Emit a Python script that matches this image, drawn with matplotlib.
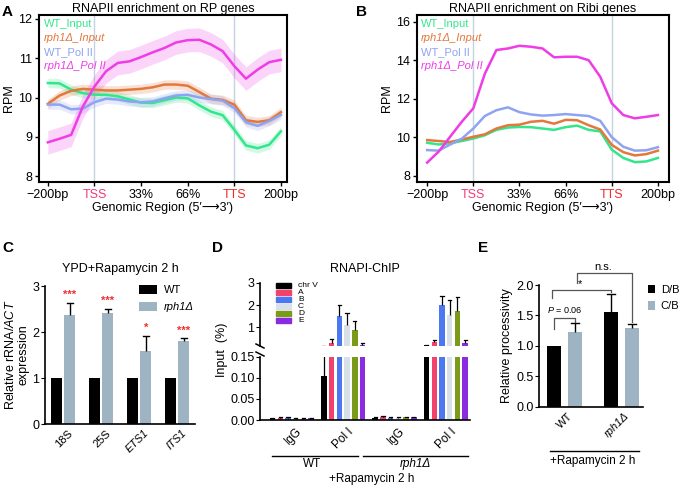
import matplotlib
matplotlib.use('Agg')
import matplotlib.pyplot as plt
from matplotlib.lines import Line2D
from matplotlib.patches import Rectangle

plt.rcParams['font.family'] = ['Liberation Sans', 'DejaVu Sans']
plt.rcParams['mathtext.fontset'] = 'custom'
plt.rcParams['mathtext.rm'] = 'Liberation Sans'
plt.rcParams['mathtext.it'] = 'Liberation Sans:italic'
plt.rcParams['axes.linewidth'] = 1.0

# ---------------- data ----------------
profile_pos = [0, 0.25, 0.5, 0.75, 1.0, 1.25, 1.5, 1.75, 2.0, 2.25, 2.5,
               2.75, 3.0, 3.25, 3.5, 3.75, 4.0, 4.25, 4.5, 4.75, 5.0]
profile_ticks = ['\u2212200bp', 'TSS', '33%', '66%', 'TTS', '200bp']
series_labels = ['WT_Input', 'rph1\u0394_Input', 'WT_Pol II', 'rph1\u0394_Pol II']
series_colors = ['#33e68c', '#e3783c', '#8ea3f2', '#f03ce6']

rp_wt_input = [10.37, 10.36, 10.20, 10.11, 10.07, 10.07, 10.03, 9.95, 9.87, 9.86, 9.93,
               10.00, 9.98, 9.80, 9.64, 9.55, 9.18, 8.78, 8.71, 8.80, 9.14]
rp_rph_input = [9.84, 10.05, 10.17, 10.22, 10.20, 10.18, 10.18, 10.20, 10.22, 10.26, 10.33,
                10.33, 10.30, 10.14, 9.97, 9.94, 9.82, 9.42, 9.38, 9.42, 9.63]
rp_wt_pol2 = [9.82, 9.82, 9.70, 9.72, 9.88, 9.97, 9.95, 9.90, 9.88, 9.90, 9.98,
              10.05, 10.07, 10.00, 9.96, 9.92, 9.73, 9.37, 9.28, 9.40, 9.56]
rp_rph_pol2 = [8.86, 8.95, 9.05, 9.77, 10.28, 10.67, 10.88, 10.92, 11.03, 11.15, 11.26,
               11.40, 11.46, 11.47, 11.35, 11.18, 10.80, 10.48, 10.71, 10.90, 10.96]
rp_band = [0.12, 0.12, 0.12, 0.30]

ribi_wt_input = [9.71, 9.62, 9.68, 9.80, 9.93, 10.10, 10.38, 10.50, 10.53, 10.52, 10.45,
                 10.38, 10.52, 10.60, 10.38, 10.30, 9.35, 8.92, 8.70, 8.74, 8.92]
ribi_rph_input = [9.85, 9.80, 9.75, 9.88, 10.02, 10.15, 10.45, 10.62, 10.65, 10.80, 10.85,
                  10.70, 10.90, 10.88, 10.62, 10.40, 9.60, 9.22, 9.05, 9.12, 9.30]
ribi_wt_pol2 = [9.33, 9.30, 9.62, 9.92, 10.45, 11.10, 11.40, 11.55, 11.30, 11.18, 11.12,
                11.15, 11.20, 11.15, 11.10, 10.85, 10.00, 9.50, 9.30, 9.32, 9.48]
ribi_rph_pol2 = [8.68, 9.25, 10.03, 10.80, 11.50, 13.30, 14.53, 14.61, 14.75, 14.70, 14.61,
                 14.15, 14.18, 14.18, 14.00, 13.14, 11.76, 11.15, 10.98, 11.06, 11.15]

c_targets = ['18S', '25S', 'ETS1', 'ITS1']
c_wt = [1.0, 1.0, 1.0, 1.0]
c_rph = [2.38, 2.42, 1.58, 1.80]
c_rph_err = [0.25, 0.09, 0.34, 0.06]
c_stars = ['***', '***', '*', '***']

d_regions = ['chr V', 'A', 'B', 'C', 'D', 'E']
d_colors = ['#000000', '#f2426b', '#4b78f0', '#d8e0e8', '#7c9a1a', '#8a2be2']
d_groups = ['IgG', 'Pol I', 'IgG', 'Pol I']
d_wt_igg = [0.004, 0.005, 0.005, 0.003, 0.003, 0.004]
d_wt_igg_err = [0.001, 0.001, 0.001, 0.001, 0.001, 0.001]
d_wt_pol1 = [0.105, 0.28, 1.52, 1.10, 0.88, 0.20]
d_wt_pol1_err = [0.05, 0.18, 0.48, 0.52, 0.40, 0.08]
d_rph_igg = [0.005, 0.007, 0.005, 0.005, 0.006, 0.006]
d_rph_igg_err = [0.001, 0.002, 0.001, 0.001, 0.001, 0.001]
d_rph_pol1 = [0.19, 0.35, 1.98, 1.55, 1.75, 0.30]
d_rph_pol1_err = [0.03, 0.10, 0.44, 0.67, 0.60, 0.15]

e_strains = ['WT', 'rph1\u0394']
e_db = [1.00, 1.55]
e_db_err = [0.0, 0.30]
e_cb = [1.22, 1.29]
e_cb_err = [0.15, 0.07]

GREY = '#9fb4c2'

# ---------------- helpers ----------------
W, H = 679, 494
fig = plt.figure(figsize=(W / 100, H / 100), dpi=100)


def add_ax(l, t, r, b):
    return fig.add_axes([l / W, 1 - b / H, (r - l) / W, (b - t) / H])


def ftext(x, y, s, **kw):
    return fig.text(x / W, 1 - y / H, s, **kw)


def fline(xs, ys, **kw):
    fig.add_artist(Line2D([x / W for x in xs], [1 - y / H for y in ys],
                          transform=fig.transFigure, **kw))


def up_err(ax, xs, ys, errs, cw, lw=1.0, clip=True):
    for x, y, e in zip(xs, ys, errs):
        if e <= 0:
            continue
        ax.plot([x, x], [y, y + e], color='black', lw=lw, clip_on=clip, solid_capstyle='butt')
        ax.plot([x - cw, x + cw], [y + e, y + e], color='black', lw=lw, clip_on=clip)


# ---------------- panels A, B ----------------
def profile(ax, data, bands, title, ylim, yticks, xlim, legend_x):
    for i, (y, col) in enumerate(zip(data, series_colors)):
        if bands is not None:
            lo = [v - bands[i] for v in y]
            hi = [v + bands[i] for v in y]
            ax.fill_between(profile_pos, lo, hi, color=col, alpha=0.22, lw=0)
    for y, col in zip(data, series_colors):
        ax.plot(profile_pos, y, color=col, lw=1.8, solid_joinstyle='round')
    ax.axvline(1, color='#c3d3e0', lw=1.0, zorder=0)
    ax.axvline(4, color='#c3d3e0', lw=1.0, zorder=0)
    ax.set_xlim(*xlim)
    ax.set_ylim(*ylim)
    ax.set_yticks(yticks)
    ax.set_xticks(range(6))
    ax.set_xticklabels(profile_ticks)
    ax.tick_params(labelsize=9, length=3, width=1.0, pad=2)
    labs = ax.get_xticklabels()
    labs[1].set_color('#f03c7a')
    labs[4].set_color('#f02a2a')
    for s in ax.spines.values():
        s.set_linewidth(1.5)
    ax.set_title(title, fontsize=9, pad=2)
    ax.set_xlabel('Genomic Region (5\u2032\u27f63\u2032)', fontsize=9, labelpad=1)
    ax.set_ylabel('RPM', fontsize=9, labelpad=2)
    for k, (lab, col) in enumerate(zip(series_labels, series_colors)):
        ftext(legend_x, 24 + 14 * k, lab, color=col, fontsize=8, va='center',
              style='italic' if 'rph' in lab else 'normal')


axA = add_ax(39, 15, 287, 182)
profile(axA, [rp_wt_input, rp_rph_input, rp_wt_pol2, rp_rph_pol2], rp_band,
        'RNAPII enrichment on RP genes', (7.85, 12.1), [8, 9, 10, 11, 12],
        (-0.19, 5.13), 44)

axB = add_ax(417, 15, 669, 182)
profile(axB, [ribi_wt_input, ribi_rph_input, ribi_wt_pol2, ribi_rph_pol2], None,
        'RNAPII enrichment on Ribi genes', (7.67, 16.35), [8, 10, 12, 14, 16],
        (-0.22, 5.24), 421)

ftext(2, 12, 'A', fontsize=11, fontweight='bold', va='center')
ftext(356, 12, 'B', fontsize=11, fontweight='bold', va='center')
ftext(2, 248, 'C', fontsize=11, fontweight='bold', va='center')
ftext(212, 248, 'D', fontsize=11, fontweight='bold', va='center')
ftext(478, 248, 'E', fontsize=11, fontweight='bold', va='center')

# ---------------- panel C ----------------
axC = add_ax(45, 286, 195, 424)
cx = list(range(len(c_targets)))
bw, off = 0.29, 0.18
axC.bar([x - off for x in cx], c_wt, width=bw, color='black', label='WT')
axC.bar([x + off for x in cx], c_rph, width=bw, color=GREY, label='rph1\u0394')
up_err(axC, [x + off for x in cx], c_rph, c_rph_err, 0.08)
for x, y, e, s in zip(cx, c_rph, c_rph_err, c_stars):
    axC.text(x + off, y + e + 0.06, s, color='#f03030', fontsize=8, ha='center', va='bottom',
             fontweight='bold')
axC.set_xlim(-0.47, 3.47)
axC.set_ylim(0, 3)
axC.set_yticks([0, 1, 2, 3])
axC.spines[['top', 'right']].set_visible(False)
axC.spines['left'].set_linewidth(1.2)
axC.spines['bottom'].set_linewidth(1.2)
axC.tick_params(axis='y', labelsize=9, length=3, pad=1)
axC.tick_params(axis='x', length=0, labelsize=8, pad=3)
axC.set_xticks([x + 0.12 for x in cx])
axC.set_xticklabels(c_targets, rotation=45, ha='right', rotation_mode='anchor')
for lab in axC.get_xticklabels()[2:]:
    lab.set_style('italic')
axC.set_title('YPD+Rapamycin 2 h', fontsize=9, pad=10)
ftext(17, 355, 'Relative rRNA/$\\mathit{ACT}$\nexpression', rotation=90, fontsize=9,
      ha='center', va='center', multialignment='center', linespacing=1.0)
legC = axC.legend(loc='upper left', bbox_to_anchor=(0.6, 1.04), frameon=False, fontsize=8,
                  handlelength=1.6, handleheight=0.9, labelspacing=0.6, handletextpad=0.6,
                  borderaxespad=0)
legC.get_texts()[1].set_style('italic')

# ---------------- panel D ----------------
d_sets = [(d_wt_igg, d_wt_igg_err), (d_wt_pol1, d_wt_pol1_err),
          (d_rph_igg, d_rph_igg_err), (d_rph_pol1, d_rph_pol1_err)]
axD_lo = add_ax(260, 356.7, 470, 420)
axD_hi = add_ax(260, 282.7, 470, 346.3)
step, dw = 0.15, 0.108
for ax in (axD_lo, axD_hi):
    for g, (vals, errs) in enumerate(d_sets):
        xs = [g + (k - 2.5) * step for k in range(len(d_regions))]
        for x, v, col in zip(xs, vals, d_colors):
            ax.bar(x, v, width=dw, color=col, edgecolor='none')
        up_err(ax, xs, vals, errs, 0.03, lw=0.9)
    ax.set_xlim(-0.62, 3.47)
    ax.spines[['top', 'right']].set_visible(False)
    ax.spines['left'].set_linewidth(1.2)
    ax.tick_params(axis='y', labelsize=9, length=3, pad=1)
axD_lo.set_ylim(0, 0.15)
axD_lo.set_yticks([0, 0.05, 0.10, 0.15])
axD_lo.set_yticklabels(['0.00', '0.05', '0.10', '0.15'])
axD_lo.spines['bottom'].set_linewidth(1.2)
axD_lo.set_xticks([g + 0.08 for g in range(4)])
axD_lo.set_xticklabels(d_groups, rotation=45, ha='right', rotation_mode='anchor', fontsize=8.5)
axD_lo.tick_params(axis='x', length=0, pad=4)
axD_hi.set_ylim(0.15, 3)
axD_hi.set_yticks([1, 2, 3])
axD_hi.spines['bottom'].set_visible(False)
axD_hi.set_xticks([])
# break marks
fline([256, 264], [344, 348], color='black', lw=1.1)
fline([256, 264], [352, 356], color='black', lw=1.1)
# legend
for k, (name, col) in enumerate(zip(d_regions, d_colors)):
    fig.add_artist(Rectangle((276 / W, 1 - (287.6 + 7.0 * k) / H), 15 / W, 4.8 / H,
                             transform=fig.transFigure, color=col))
    ftext(298, 285.2 + 7.0 * k, name, fontsize=6, va='center')
axD_hi.set_title('RNAPI-ChIP', fontsize=9, pad=8)
ftext(222, 350, 'Input  (%)', rotation=90, fontsize=9, ha='center', va='center')
fline([272, 358], [455.7, 455.7], color='black', lw=1.0)
fline([363, 468], [455.7, 455.7], color='black', lw=1.0)
ftext(312, 464, 'WT', fontsize=8.5, ha='center', va='center')
ftext(415, 464, 'rph1\u0394', fontsize=8.5, ha='center', va='center', style='italic')
ftext(372, 479, '+Rapamycin 2 h', fontsize=8.5, ha='center', va='center')

# ---------------- panel E ----------------
axE = add_ax(539, 285, 643, 406.7)
ex = list(range(len(e_strains)))
eo, ew = 0.184, 0.26
axE.bar([x - eo for x in ex], e_db, width=ew, color='black', label='D/B')
axE.bar([x + eo for x in ex], e_cb, width=ew, color=GREY, label='C/B')
up_err(axE, [x - eo for x in ex], e_db, e_db_err, 0.07)
up_err(axE, [x + eo for x in ex], e_cb, e_cb_err, 0.07)
axE.set_xlim(-0.447, 1.377)
axE.set_ylim(0, 2)
axE.set_yticks([0, 0.5, 1.0, 1.5, 2.0])
axE.set_yticklabels(['0.0', '0.5', '1.0', '1.5', '2.0'])
axE.spines[['top', 'right']].set_visible(False)
axE.spines['left'].set_linewidth(1.2)
axE.spines['bottom'].set_linewidth(1.2)
axE.tick_params(axis='y', labelsize=9, length=3, pad=1)
axE.tick_params(axis='x', length=0, labelsize=8, pad=3)
axE.set_xticks([x + 0.05 for x in ex])
axE.set_xticklabels(e_strains, rotation=45, ha='right', rotation_mode='anchor')
axE.get_xticklabels()[1].set_style('italic')
axE.set_ylabel('Relative processivity', fontsize=9, labelpad=2)
# significance brackets
xa, xb, xc, xd = -eo, eo, 1 - eo, 1 + eo
axE.plot([xa, xa, xb, xb], [1.28, 1.45, 1.45, 1.40], color='#555555', lw=0.9, clip_on=False)
axE.text((xa + xb) / 2, 1.50, '$\\mathit{P}$ = 0.06', fontsize=6.5, ha='center', va='bottom')
axE.plot([xa - 0.03, xa - 0.03, xc, xc], [1.78, 1.92, 1.92, 1.88], color='#555555', lw=0.9,
         clip_on=False)
axE.text((xa + xc) / 2 - 0.05, 1.93, '*', fontsize=8, ha='center', va='bottom')
axE.plot([xb + 0.03, xb + 0.03, xd, xd], [2.03, 2.19, 2.19, 1.40], color='#555555', lw=0.9,
         clip_on=False)
axE.text((xb + xd) / 2, 2.21, 'n.s.', fontsize=8, ha='center', va='bottom')
axE.legend(loc='upper left', bbox_to_anchor=(1.01, 1.04), frameon=False, fontsize=8,
           handlelength=0.6, handleheight=0.8, labelspacing=0.6, handletextpad=0.5,
           borderaxespad=0)
fline([550, 639], [450.7, 450.7], color='black', lw=1.0)
ftext(593, 461, '+Rapamycin 2 h', fontsize=8.5, ha='center', va='center')

fig.savefig('out.png', dpi=100)
